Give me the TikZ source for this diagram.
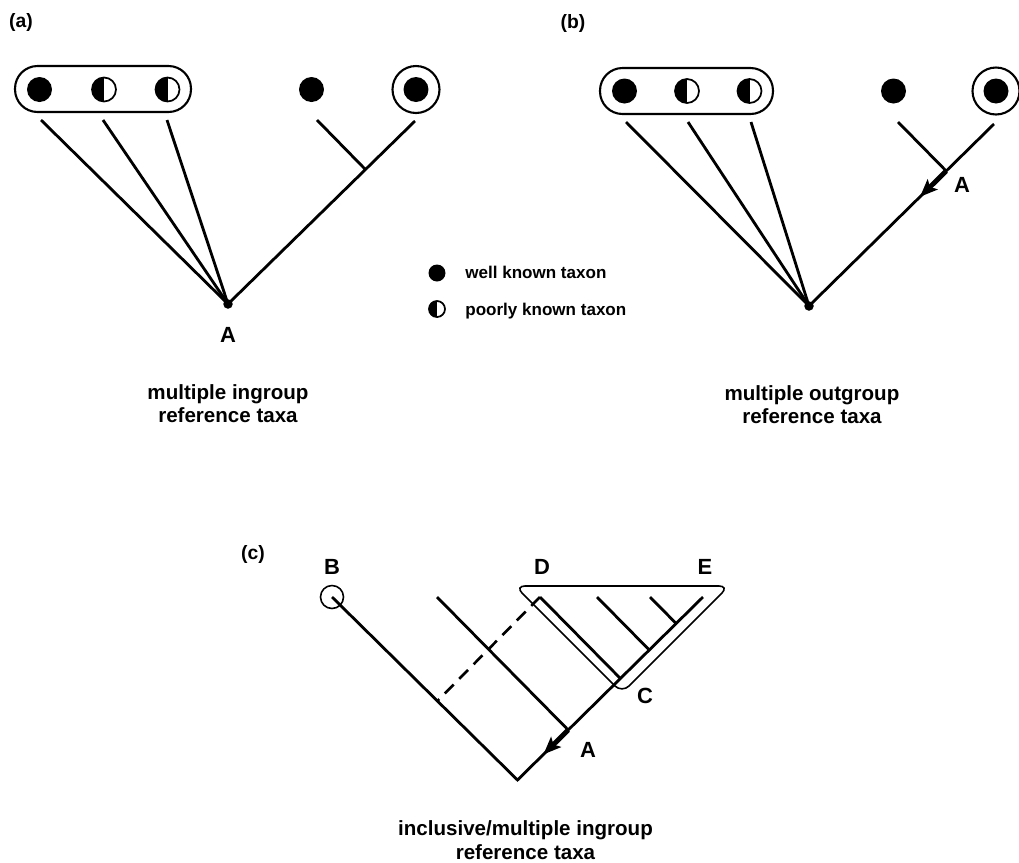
\documentclass[tikz,border=0pt]{standalone}
\usepackage{fontspec}
\setmainfont{Liberation Sans}
\usetikzlibrary{calc,arrows.meta}
\begin{document}
\begin{tikzpicture}[x=0.02cm, y=-0.02cm,
  branch/.style={line width=1.6pt},
  dashbranch/.style={line width=1.5pt, dash pattern=on 0.25cm off 0.16cm},
  thickarrow/.style={line width=2.8pt, -{Stealth[length=10pt, width=8pt, inset=2pt]}},
  taxonW/.style={circle, fill=black, inner sep=0pt, minimum size=0.5cm},
  taxonP/.style={circle, draw, line width=1pt, inner sep=0pt, minimum size=0.48cm,
    path picture={\fill[black] (path picture bounding box.north) rectangle (path picture bounding box.south west);}},
  ring/.style={circle, draw, line width=1.2pt, inner sep=0pt, minimum size=0.94cm},
  groupbox/.style={draw, line width=1.2pt, rounded corners=0.45cm, inner sep=0pt, minimum height=0.92cm},
  rootdot/.style={circle, fill=black, inner sep=0pt, minimum size=0.19cm},
  lbl/.style={font=\bfseries\fontsize{12.5}{14}\selectfont, inner sep=0pt},
  panellbl/.style={font=\bfseries\fontsize{11}{13}\selectfont, inner sep=0pt},
  capt/.style={font=\bfseries\fontsize{11.7}{13}\selectfont, inner sep=0pt, anchor=base},
  legtext/.style={font=\bfseries\fontsize{9.7}{12}\selectfont, inner sep=0pt, anchor=base west}
]
\useasboundingbox (0,0) rectangle (1019,863);

% ---------------- panel (a) ----------------
\node[panellbl] (pa) at (21,22) {(a)};
\node[groupbox, minimum width=3.52cm] (boxA) at (103,89) {};
\node[taxonW] (a1) at (39.5,89.5) {};
\node[taxonP] (a2) at (104,89.5) {};
\node[taxonP] (a3) at (167.5,89.5) {};
\node[taxonW] (a4) at (311.5,89.5) {};
\node[ring] (a5ring) at (416,89.5) {};
\node[taxonW] (a5) at (416,89.5) {};
\node[rootdot] (rootA) at (228,304) {};
\coordinate (a1t) at (41,120);
\coordinate (a2t) at (103,120);
\coordinate (a3t) at (167,120);
\coordinate (a4t) at (317,120);
\coordinate (a5t) at (415,121);
\coordinate (ja) at ($(a5t)!(a4t)!(rootA)$);
\draw[branch] (a1t) -- (rootA.center);
\draw[branch] (a2t) -- (rootA.center);
\draw[branch] (a3t) -- (rootA.center);
\draw[branch] (a5t) -- (rootA.center);
\draw[branch] (a4t) -- (ja);
\node[lbl] (labA) at (228,335) {A};
\node[capt] (capA1) at (228,399) {multiple ingroup};
\node[capt] (capA2) at (228,422) {reference taxa};

% ---------------- legend ----------------
\node[taxonW, minimum size=0.34cm] (legW) at (437,273) {};
\node[taxonP, minimum size=0.32cm] (legP) at (437,309) {};
\node[legtext] (legWt) at (465,278) {well known taxon};
\node[legtext] (legPt) at (465,315) {poorly known taxon};

% ---------------- panel (b) ----------------
\node[panellbl] (pb) at (573,23) {(b)};
\node[groupbox, minimum width=3.46cm] (boxB) at (686.5,91) {};
\node[taxonW] (b1) at (624.5,91) {};
\node[taxonP] (b2) at (687,91) {};
\node[taxonP] (b3) at (749.5,91) {};
\node[taxonW] (b4) at (893.5,91) {};
\node[ring] (b5ring) at (996,91) {};
\node[taxonW] (b5) at (996,91) {};
\node[rootdot] (rootB) at (809,306) {};
\coordinate (b1t) at (626,122);
\coordinate (b2t) at (688,122);
\coordinate (b3t) at (751,122);
\coordinate (b4t) at (898,122);
\coordinate (b5t) at (994,124);
\coordinate (jb) at ($(b5t)!(b4t)!(rootB)$);
\coordinate (tipB) at ($(b5t)!0.40!(rootB)$);
\draw[branch] (b1t) -- (rootB.center);
\draw[branch] (b2t) -- (rootB.center);
\draw[branch] (b3t) -- (rootB.center);
\draw[branch] (b5t) -- (rootB.center);
\draw[branch] (b4t) -- (jb);
\draw[thickarrow] (jb) -- (tipB);
\node[lbl] (labAb) at (962,185) {A};
\node[capt] (capB1) at (812,400) {multiple outgroup};
\node[capt] (capB2) at (812,423) {reference taxa};

% ---------------- panel (c) ----------------
\node[panellbl] (pc) at (253,554) {(c)};
\coordinate (Btop) at (332,597);
\coordinate (rootC) at (517.5,780);
\coordinate (rtop) at (703,597);
\coordinate (c2t) at (437,597);
\coordinate (Dtop) at (540,597);
\coordinate (c4t) at (597,597);
\coordinate (c5t) at (650,597);
\coordinate (j2) at ($(rtop)!(c2t)!(rootC)$);
\coordinate (jD) at ($(rtop)!(Dtop)!(rootC)$);
\coordinate (j4) at ($(rtop)!(c4t)!(rootC)$);
\coordinate (j5) at ($(rtop)!(c5t)!(rootC)$);
\coordinate (footD) at ($(Btop)!(Dtop)!(rootC)$);
\coordinate (tipC) at ($(rtop)!0.86!(rootC)$);
\node[circle, draw, line width=0.9pt, inner sep=0pt, minimum size=0.46cm] (Bcirc) at (Btop) {};
\draw[line width=0.9pt, rounded corners=0.2cm] (515,586) -- (729,586) -- (622,693) -- cycle;
\draw[branch] (Btop) -- (rootC) -- (rtop);
\draw[branch] (c2t) -- (j2);
\draw[branch] (Dtop) -- (jD);
\draw[branch] (c4t) -- (j4);
\draw[branch] (c5t) -- (j5);
\draw[dashbranch] (Dtop) -- (footD);
\draw[thickarrow] (j2) -- (tipC);
\node[lbl] (labB) at (332,567) {B};
\node[lbl] (labD) at (542,567) {D};
\node[lbl] (labE) at (705,567) {E};
\node[lbl] (labC) at (645,696) {C};
\node[lbl] (labAc) at (588,750) {A};
\node[capt] (capC1) at (525.5,835) {inclusive/multiple ingroup};
\node[capt] (capC2) at (525.5,859) {reference taxa};
\end{tikzpicture}
\end{document}
